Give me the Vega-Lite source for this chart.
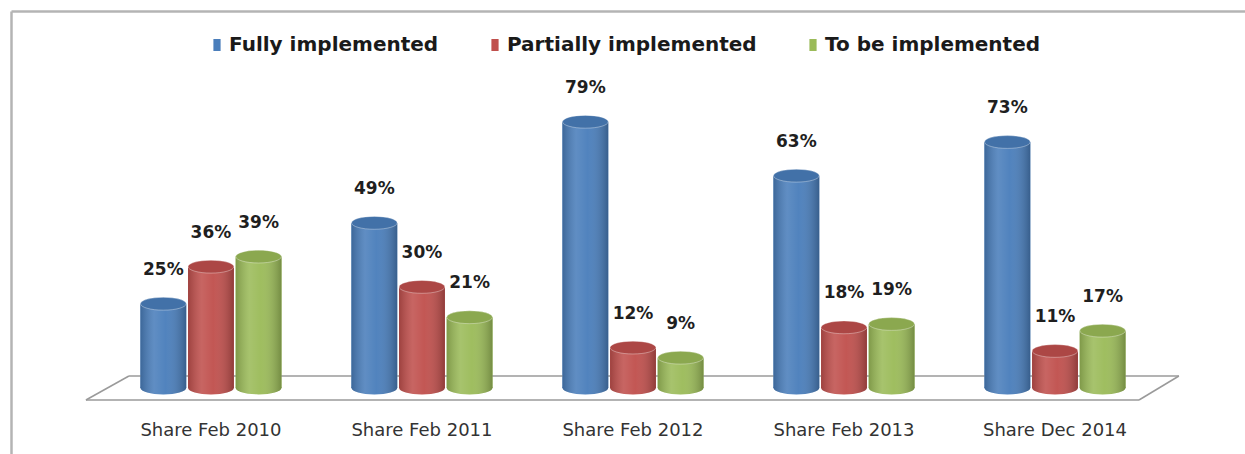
{
  "$schema": "https://vega.github.io/schema/vega-lite/v6.json",
  "width": 1234,
  "height": 443,
  "autosize": {"type": "none"},
  "padding": {"left": 11, "top": 11, "right": 0, "bottom": 0},
  "background": "white",
  "config": {
    "view": {"stroke": null},
    "axis": {"title": null},
    "text": {"font": "DejaVu Sans"}
  },
  "data": {
    "values": [
      {"period": "Share Feb 2010", "series": "Fully implemented", "value": 25, "label": "25%"},
      {"period": "Share Feb 2010", "series": "Partially implemented", "value": 36, "label": "36%"},
      {"period": "Share Feb 2010", "series": "To be  implemented", "value": 39, "label": "39%"},
      {"period": "Share Feb 2011", "series": "Fully implemented", "value": 49, "label": "49%"},
      {"period": "Share Feb 2011", "series": "Partially implemented", "value": 30, "label": "30%"},
      {"period": "Share Feb 2011", "series": "To be  implemented", "value": 21, "label": "21%"},
      {"period": "Share Feb 2012", "series": "Fully implemented", "value": 79, "label": "79%"},
      {"period": "Share Feb 2012", "series": "Partially implemented", "value": 12, "label": "12%"},
      {"period": "Share Feb 2012", "series": "To be  implemented", "value": 9, "label": "9%"},
      {"period": "Share Feb 2013", "series": "Fully implemented", "value": 63, "label": "63%"},
      {"period": "Share Feb 2013", "series": "Partially implemented", "value": 18, "label": "18%"},
      {"period": "Share Feb 2013", "series": "To be  implemented", "value": 19, "label": "19%"},
      {"period": "Share Dec 2014", "series": "Fully implemented", "value": 73, "label": "73%"},
      {"period": "Share Dec 2014", "series": "Partially implemented", "value": 11, "label": "11%"},
      {"period": "Share Dec 2014", "series": "To be  implemented", "value": 17, "label": "17%"}
    ]
  },
  "layer": [
    {
      "mark": {"type": "bar", "stroke": null},
      "encoding": {
        "x": {
          "field": "period", "type": "nominal",
          "scale": {"domain": ["Share Feb 2010", "Share Feb 2011", "Share Feb 2012", "Share Feb 2013", "Share Dec 2014"], "paddingInner": 0.332, "paddingOuter": 0.59, "align": 0.52},
          "axis": {"orient": "top", "domain": true, "domainColor": "#b4b4b4", "domainWidth": 2.5, "labels": false, "ticks": false, "grid": false, "title": null}
        },
        "xOffset": {"field": "series", "type": "nominal", "scale": {"domain": ["Fully implemented", "Partially implemented", "To be  implemented"], "paddingInner": 0.04, "paddingOuter": 0}},
        "y": {
          "field": "value", "type": "quantitative", "stack": null,
          "scale": {"domain": [-19.58, 111.87], "nice": false, "zero": false},
          "axis": {"domain": true, "domainColor": "#b4b4b4", "domainWidth": 2.5, "labels": false, "ticks": false, "grid": false, "title": null}
        },
        "y2": {"datum": 0},
        "color": {
          "field": "series", "type": "nominal",
          "scale": {"domain": ["Fully implemented", "Partially implemented", "To be  implemented"], "range": ["#4a7ebb", "#c0504d", "#9bbb59"]},
          "legend": {
            "title": null, "orient": "none", "direction": "horizontal", "legendX": 196, "legendY": 24,
            "padding": 0, "columnPadding": 46, "labelOffset": 2,
            "symbolType": "M-0.6,-1H0.6V1H-0.6Z", "symbolSize": 144, "symbolStrokeWidth": 0,
            "labelFont": "DejaVu Sans", "labelFontWeight": "bold", "labelFontSize": 20, "labelColor": "#1a1a1a", "labelLimit": 400
          }
        }
      }
    },
    {
      "data": {"values": [{}]},
      "mark": {"type": "rule", "color": "#9a9a9a", "strokeWidth": 1.5},
      "encoding": {
        "x": {"datum": "Share Feb 2010", "type": "nominal", "bandPosition": -0.387},
        "x2": {"datum": "Share Dec 2014", "bandPosition": 1.096},
        "y": {"datum": -3.56, "type": "quantitative"},
        "y2": {"datum": -3.56}
      }
    },
    {
      "data": {"values": [{}]},
      "mark": {"type": "rule", "color": "#9a9a9a", "strokeWidth": 1.5},
      "encoding": {
        "x": {"datum": "Share Feb 2010", "type": "nominal", "bandPosition": -0.082},
        "x2": {"datum": "Share Dec 2014", "bandPosition": 1.379},
        "y": {"datum": 3.56, "type": "quantitative"},
        "y2": {"datum": 3.56}
      }
    },
    {
      "data": {"values": [{}]},
      "mark": {"type": "rule", "color": "#9a9a9a", "strokeWidth": 1.5},
      "encoding": {
        "x": {"datum": "Share Feb 2010", "type": "nominal", "bandPosition": -0.387},
        "x2": {"datum": "Share Feb 2010", "bandPosition": -0.082},
        "y": {"datum": -3.56, "type": "quantitative"},
        "y2": {"datum": 3.56}
      }
    },
    {
      "data": {"values": [{}]},
      "mark": {"type": "rule", "color": "#9a9a9a", "strokeWidth": 1.5},
      "encoding": {
        "x": {"datum": "Share Dec 2014", "type": "nominal", "bandPosition": 1.096},
        "x2": {"datum": "Share Dec 2014", "bandPosition": 1.379},
        "y": {"datum": -3.56, "type": "quantitative"},
        "y2": {"datum": 3.56}
      }
    },
    {
      "mark": {"type": "point", "filled": true, "opacity": 1, "size": 2090, "shape": "M-1,0A1,0.28,0,1,1,1,0A1,0.28,0,1,1,-1,0Z"},
      "encoding": {
        "x": {"field": "period", "type": "nominal"},
        "xOffset": {"field": "series", "type": "nominal"},
        "y": {"datum": 0, "type": "quantitative"},
        "color": {"field": "series", "type": "nominal", "legend": null}
      }
    },
    {
      "mark": {"type": "point", "filled": true, "opacity": 1, "size": 2090, "shape": "M-1,0A1,0.28,0,1,1,1,0A1,0.28,0,1,1,-1,0Z",
        "fill": {"gradient": "linear", "x1": 0, "y1": 0, "x2": 1, "y2": 0, "stops": [{"offset": 0, "color": "rgba(0,0,0,0.18)"}, {"offset": 0.3, "color": "rgba(255,255,255,0.12)"}, {"offset": 0.55, "color": "rgba(255,255,255,0.04)"}, {"offset": 1, "color": "rgba(0,0,0,0.25)"}]}},
      "encoding": {
        "x": {"field": "period", "type": "nominal"},
        "xOffset": {"field": "series", "type": "nominal"},
        "y": {"datum": 0, "type": "quantitative"}
      }
    },
    {
      "mark": {"type": "bar", "stroke": null},
      "encoding": {
        "x": {"field": "period", "type": "nominal"},
        "xOffset": {"field": "series", "type": "nominal"},
        "y": {"field": "value", "type": "quantitative", "stack": null},
        "y2": {"datum": 0},
        "color": {"field": "series", "type": "nominal", "legend": null}
      }
    },
    {
      "mark": {"type": "bar", "stroke": null,
        "fill": {"gradient": "linear", "x1": 0, "y1": 0, "x2": 1, "y2": 0, "stops": [{"offset": 0, "color": "rgba(0,0,0,0.18)"}, {"offset": 0.3, "color": "rgba(255,255,255,0.12)"}, {"offset": 0.55, "color": "rgba(255,255,255,0.04)"}, {"offset": 1, "color": "rgba(0,0,0,0.25)"}]}},
      "encoding": {
        "x": {"field": "period", "type": "nominal"},
        "xOffset": {"field": "series", "type": "nominal"},
        "y": {"field": "value", "type": "quantitative", "stack": null},
        "y2": {"datum": 0}
      }
    },
    {
      "mark": {"type": "point", "filled": true, "opacity": 1, "size": 2090, "shape": "M-1,0A1,0.28,0,1,1,1,0A1,0.28,0,1,1,-1,0Z"},
      "encoding": {
        "x": {"field": "period", "type": "nominal"},
        "xOffset": {"field": "series", "type": "nominal"},
        "y": {"field": "value", "type": "quantitative"},
        "color": {"field": "series", "type": "nominal", "legend": null}
      }
    },
    {
      "mark": {"type": "point", "filled": true, "opacity": 1, "size": 2090, "shape": "M-1,0A1,0.28,0,1,1,1,0A1,0.28,0,1,1,-1,0Z",
        "fill": "rgba(0,0,0,0.1)", "stroke": "rgba(255,255,255,0.35)", "strokeWidth": 1},
      "encoding": {
        "x": {"field": "period", "type": "nominal"},
        "xOffset": {"field": "series", "type": "nominal"},
        "y": {"field": "value", "type": "quantitative"}
      }
    },
    {
      "mark": {"type": "text", "dy": -34, "font": "DejaVu Sans", "fontWeight": "bold", "fontSize": 17, "color": "#1f1f1f", "baseline": "middle", "align": "center"},
      "encoding": {
        "x": {"field": "period", "type": "nominal"},
        "xOffset": {"field": "series", "type": "nominal"},
        "y": {"field": "value", "type": "quantitative"},
        "text": {"field": "label", "type": "nominal"}
      }
    },
    {
      "transform": [{"filter": "datum.series === 'Fully implemented'"}],
      "mark": {"type": "text", "font": "DejaVu Sans", "fontSize": 18, "color": "#333333", "baseline": "middle", "align": "center"},
      "encoding": {
        "x": {"field": "period", "type": "nominal"},
        "y": {"datum": -12.7, "type": "quantitative"},
        "text": {"field": "period", "type": "nominal"}
      }
    }
  ]
}
